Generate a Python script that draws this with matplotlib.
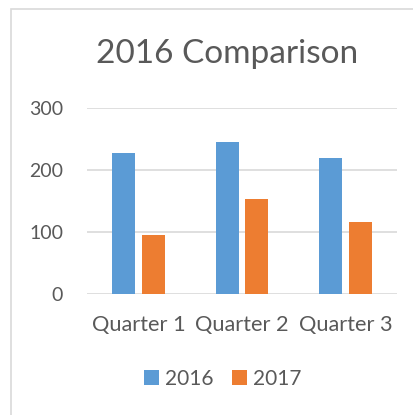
import matplotlib
matplotlib.use("Agg")
import matplotlib.pyplot as plt
import numpy as np
from matplotlib.patches import Rectangle, Patch

categories = ["Quarter 1", "Quarter 2", "Quarter 3"]
series_names = ["2016", "2017"]
values_2016 = [227, 245, 220]
values_2017 = [96, 153, 116]
yticks = [0, 100, 200, 300]

c2016 = "#5B9BD5"
c2017 = "#ED7D31"
txt = "#595959"
grid = "#D9D9D9"
W, H = 414, 415

plt.rcParams['font.family'] = ['Lato', 'DejaVu Sans']
fig = plt.figure(figsize=(W/100, H/100), dpi=100)
fig.patch.set_facecolor("white")

# outer chart border (cropped on right/bottom)
fig.patches.append(Rectangle((10.5/W, -0.1), 1.2, 1 - 9/H + 0.1, transform=fig.transFigure,
                             fill=False, edgecolor="#D9D9D9", linewidth=1.2))

ax = fig.add_axes([86.7/W, 1 - 294.3/H, (397.3-86.7)/W, (294.3-108)/H])
x = np.arange(len(categories))
off = 0.142
bw = 0.225
ax.bar(x - off, values_2016, bw, color=c2016, zorder=3, label=series_names[0])
ax.bar(x + off, values_2017, bw, color=c2017, zorder=3, label=series_names[1])
ax.set_xlim(-0.5, len(categories) - 0.5)
ax.set_ylim(0, 300)
ax.set_yticks(yticks)
ax.set_yticklabels([str(v) for v in yticks])
ax.set_xticks(x)
ax.set_xticklabels(categories)
for v in yticks:
    ax.axhline(v, color=grid, linewidth=1.2, zorder=1)
for s in ax.spines.values():
    s.set_visible(False)
ax.tick_params(axis='both', length=0, colors=txt)
ax.tick_params(axis='y', pad=17, labelsize=14)
ax.tick_params(axis='x', pad=15, labelsize=15.7)

fig.text(227/W, 1 - 54/H, "2016 Comparison", ha='center', va='center', fontsize=24, color=txt)

handles = [Patch(facecolor=c2016), Patch(facecolor=c2017)]
fig.legend(handles, series_names, loc='center', bbox_to_anchor=(223/W, 1 - 379/H), ncol=2,
           frameon=False, fontsize=15, labelcolor=txt, handlelength=0.7, handleheight=0.7,
           handletextpad=0.3, columnspacing=0.9)

fig.savefig("out.png", dpi=100)
